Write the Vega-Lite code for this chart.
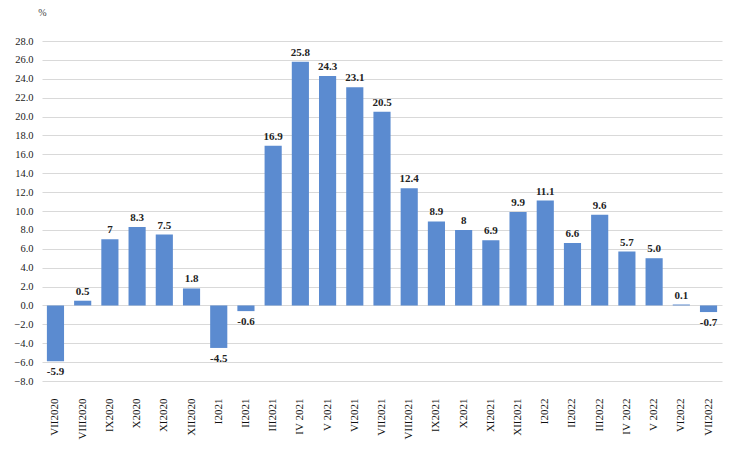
{
  "$schema": "https://vega.github.io/schema/vega-lite/v6.json",
  "autosize": {"type": "none"},
  "width": 680,
  "height": 340,
  "padding": {"left": 42, "top": 41, "right": 18, "bottom": 79},
  "background": "white",
  "config": {"view": {"stroke": null}, "font": "Liberation Serif"},
  "data": {"values": [
    {"m": "VII2020", "v": -5.9, "t": "-5.9"},
    {"m": "VIII2020", "v": 0.5, "t": "0.5"},
    {"m": "IX2020", "v": 7, "t": "7"},
    {"m": "X2020", "v": 8.3, "t": "8.3"},
    {"m": "XI2020", "v": 7.5, "t": "7.5"},
    {"m": "XII2020", "v": 1.8, "t": "1.8"},
    {"m": "I2021", "v": -4.5, "t": "-4.5"},
    {"m": "II2021", "v": -0.6, "t": "-0.6"},
    {"m": "III2021", "v": 16.9, "t": "16.9"},
    {"m": "IV 2021", "v": 25.8, "t": "25.8"},
    {"m": "V 2021", "v": 24.3, "t": "24.3"},
    {"m": "VI2021", "v": 23.1, "t": "23.1"},
    {"m": "VII2021", "v": 20.5, "t": "20.5"},
    {"m": "VIII2021", "v": 12.4, "t": "12.4"},
    {"m": "IX2021", "v": 8.9, "t": "8.9"},
    {"m": "X2021", "v": 8, "t": "8"},
    {"m": "XI2021", "v": 6.9, "t": "6.9"},
    {"m": "XII2021", "v": 9.9, "t": "9.9"},
    {"m": "I2022", "v": 11.1, "t": "11.1"},
    {"m": "II2022", "v": 6.6, "t": "6.6"},
    {"m": "III2022", "v": 9.6, "t": "9.6"},
    {"m": "IV 2022", "v": 5.7, "t": "5.7"},
    {"m": "V 2022", "v": 5.0, "t": "5.0"},
    {"m": "VI2022", "v": 0.1, "t": "0.1"},
    {"m": "VII2022", "v": -0.7, "t": "-0.7"}
  ]},
  "encoding": {
    "x": {
      "field": "m", "type": "nominal", "sort": null,
      "scale": {"paddingInner": 0.37, "paddingOuter": 0.18},
      "axis": {
        "title": null, "labelAngle": -90, "labelAlign": "right", "labelBaseline": "middle",
        "labelPadding": 17, "labelFontSize": 11, "labelColor": "#111",
        "domain": false, "ticks": false, "grid": false
      }
    },
    "y": {
      "field": "v", "type": "quantitative",
      "scale": {"domain": [-8, 28], "nice": false, "zero": false},
      "axis": {
        "values": [-8,-6,-4,-2,0,2,4,6,8,10,12,14,16,18,20,22,24,26,28],
        "format": ".1f", "labelFontSize": 10.5, "labelColor": "#222", "labelPadding": 9,
        "domain": false, "ticks": false, "gridColor": "#d9d9d9", "gridWidth": 1,
        "title": "%", "titleAngle": 0, "titleX": 0, "titleY": -24, "titleAlign": "center",
        "titleFontSize": 10, "titleFontWeight": "normal", "titleColor": "#444"
      }
    }
  },
  "layer": [
    {"mark": {"type": "bar", "color": "#5b8bd0"}, "encoding": {"y2": {"datum": 0}}},
    {
      "transform": [{"filter": "datum.v >= 0"}],
      "mark": {"type": "text", "baseline": "bottom", "dy": -4, "fontSize": 11, "fontWeight": "bold", "color": "#222"},
      "encoding": {"text": {"field": "t"}}
    },
    {
      "transform": [{"filter": "datum.v < 0"}],
      "mark": {"type": "text", "baseline": "top", "dy": 5, "fontSize": 11, "fontWeight": "bold", "color": "#222"},
      "encoding": {"text": {"field": "t"}}
    }
  ]
}
